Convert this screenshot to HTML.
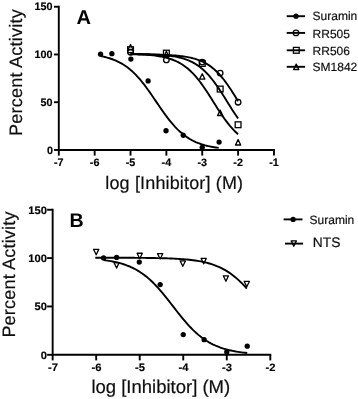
<!DOCTYPE html>
<html><head><meta charset="utf-8"><style>
html,body{margin:0;padding:0;background:#fff;}
body{width:358px;height:399px;overflow:hidden;}
svg{display:block;}
text{-webkit-font-smoothing:antialiased;text-rendering:geometricPrecision;}
text{font-family:"Liberation Sans",sans-serif;fill:#000;}
.tk{font-weight:bold;font-size:10px;stroke:#000;stroke-width:0.15px;}
.tka{letter-spacing:0px;}
.tkb{font-size:10.8px;}
.lg{font-size:12px;fill:#111;stroke:#111;stroke-width:0.2px;}
.lg2{font-size:13.8px;fill:#111;stroke:#111;stroke-width:0.2px;}
.pl{font-weight:bold;font-size:18px;}
.xl{font-size:18px;fill:#111;stroke:#111;stroke-width:0.2px;}
.xl2{font-size:18.5px;fill:#111;stroke:#111;stroke-width:0.2px;}
</style></head><body>
<svg style="will-change:transform" width="358" height="399" viewBox="0 0 358 399">
<defs><filter id="bl" x="0" y="0" width="358" height="399" filterUnits="userSpaceOnUse"><feGaussianBlur stdDeviation="0.5"/></filter></defs>
<rect width="358" height="399" fill="#fff"/>
<g filter="url(#bl)">
<path d="M58.8,6.74 L58.8,149.95 L273.96,149.95" fill="none" stroke="#000" stroke-width="1.9" stroke-linecap="square"/>
<line x1="54" y1="149.95" x2="58.8" y2="149.95" stroke="#000" stroke-width="1.9"/>
<text transform="translate(52.9,153.70) scale(1.0,1)" class="tk tkb" text-anchor="end">0</text>
<line x1="54" y1="102.21" x2="58.8" y2="102.21" stroke="#000" stroke-width="1.9"/>
<text transform="translate(52.4,105.76) scale(1.0,1)" class="tk tkb" text-anchor="end">50</text>
<line x1="54" y1="54.48" x2="58.8" y2="54.48" stroke="#000" stroke-width="1.9"/>
<text transform="translate(52.4,57.78) scale(1.0,1)" class="tk tkb" text-anchor="end">100</text>
<line x1="54" y1="6.74" x2="58.8" y2="6.74" stroke="#000" stroke-width="1.9"/>
<text transform="translate(52.4,9.74) scale(1.0,1)" class="tk tkb" text-anchor="end">150</text>
<line x1="58.80" y1="149.95" x2="58.80" y2="155.6" stroke="#000" stroke-width="1.9"/>
<text transform="translate(58.80,166.0) scale(1.0,1)" class="tk tkb" text-anchor="middle">-7</text>
<line x1="94.66" y1="149.95" x2="94.66" y2="155.6" stroke="#000" stroke-width="1.9"/>
<text transform="translate(94.66,166.0) scale(1.0,1)" class="tk tkb" text-anchor="middle">-6</text>
<line x1="130.52" y1="149.95" x2="130.52" y2="155.6" stroke="#000" stroke-width="1.9"/>
<text transform="translate(130.52,166.0) scale(1.0,1)" class="tk tkb" text-anchor="middle">-5</text>
<line x1="166.38" y1="149.95" x2="166.38" y2="155.6" stroke="#000" stroke-width="1.9"/>
<text transform="translate(166.38,166.0) scale(1.0,1)" class="tk tkb" text-anchor="middle">-4</text>
<line x1="202.24" y1="149.95" x2="202.24" y2="155.6" stroke="#000" stroke-width="1.9"/>
<text transform="translate(202.24,166.0) scale(1.0,1)" class="tk tkb" text-anchor="middle">-3</text>
<line x1="238.10" y1="149.95" x2="238.10" y2="155.6" stroke="#000" stroke-width="1.9"/>
<text transform="translate(238.10,166.0) scale(1.0,1)" class="tk tkb" text-anchor="middle">-2</text>
<line x1="273.96" y1="149.95" x2="273.96" y2="155.6" stroke="#000" stroke-width="1.9"/>
<text transform="translate(273.96,166.0) scale(1.0,1)" class="tk tkb" text-anchor="middle">-1</text>
<path d="M100.40,56.07 L101.90,56.36 L103.39,56.68 L104.89,57.02 L106.39,57.40 L107.89,57.81 L109.39,58.25 L110.88,58.73 L112.38,59.25 L113.88,59.82 L115.38,60.43 L116.88,61.09 L118.37,61.80 L119.87,62.56 L121.37,63.39 L122.87,64.27 L124.36,65.22 L125.86,66.24 L127.36,67.32 L128.86,68.48 L130.36,69.71 L131.85,71.02 L133.35,72.40 L134.85,73.86 L136.35,75.40 L137.85,77.02 L139.34,78.71 L140.84,80.47 L142.34,82.31 L143.84,84.21 L145.34,86.18 L146.83,88.20 L148.33,90.28 L149.83,92.40 L151.33,94.55 L152.83,96.73 L154.32,98.93 L155.82,101.15 L157.32,103.36 L158.82,105.56 L160.32,107.75 L161.81,109.91 L163.31,112.04 L164.81,114.13 L166.31,116.16 L167.81,118.14 L169.30,120.06 L170.80,121.92 L172.30,123.70 L173.80,125.41 L175.30,127.05 L176.79,128.60 L178.29,130.09 L179.79,131.49 L181.29,132.81 L182.78,134.06 L184.28,135.24 L185.78,136.34 L187.28,137.38 L188.78,138.34 L190.27,139.24 L191.77,140.08 L193.27,140.86 L194.77,141.58 L196.27,142.26 L197.76,142.88 L199.26,143.45 L200.76,143.99 L202.26,144.48 L203.76,144.93 L205.25,145.35 L206.75,145.73 L208.25,146.08 L209.75,146.41 L211.25,146.71 L212.74,146.98 L214.24,147.23 L215.74,147.46 L217.24,147.68 L218.74,147.87" fill="none" stroke="#000" stroke-width="1.9"/>
<path d="M130.52,54.39 L131.88,54.40 L133.24,54.40 L134.61,54.41 L135.97,54.42 L137.33,54.42 L138.69,54.43 L140.05,54.44 L141.41,54.45 L142.78,54.46 L144.14,54.48 L145.50,54.49 L146.86,54.51 L148.22,54.52 L149.58,54.54 L150.95,54.56 L152.31,54.58 L153.67,54.61 L155.03,54.63 L156.39,54.66 L157.76,54.70 L159.12,54.73 L160.48,54.77 L161.84,54.81 L163.20,54.86 L164.56,54.91 L165.93,54.97 L167.29,55.03 L168.65,55.09 L170.01,55.17 L171.37,55.25 L172.73,55.34 L174.10,55.44 L175.46,55.54 L176.82,55.66 L178.18,55.79 L179.54,55.93 L180.91,56.08 L182.27,56.25 L183.63,56.44 L184.99,56.64 L186.35,56.86 L187.71,57.10 L189.08,57.37 L190.44,57.65 L191.80,57.97 L193.16,58.31 L194.52,58.69 L195.89,59.09 L197.25,59.54 L198.61,60.02 L199.97,60.54 L201.33,61.11 L202.69,61.73 L204.06,62.39 L205.42,63.11 L206.78,63.89 L208.14,64.73 L209.50,65.64 L210.86,66.61 L212.23,67.65 L213.59,68.76 L214.95,69.95 L216.31,71.22 L217.67,72.57 L219.04,74.00 L220.40,75.51 L221.76,77.10 L223.12,78.77 L224.48,80.52 L225.84,82.34 L227.21,84.24 L228.57,86.20 L229.93,88.23 L231.29,90.32 L232.65,92.45 L234.01,94.62 L235.38,96.83 L236.74,99.06 L238.10,101.30" fill="none" stroke="#000" stroke-width="1.9"/>
<path d="M130.52,53.89 L131.88,53.91 L133.24,53.92 L134.61,53.94 L135.97,53.96 L137.33,53.98 L138.69,54.00 L140.05,54.03 L141.41,54.05 L142.78,54.08 L144.14,54.11 L145.50,54.15 L146.86,54.19 L148.22,54.23 L149.58,54.28 L150.95,54.33 L152.31,54.38 L153.67,54.44 L155.03,54.51 L156.39,54.58 L157.76,54.66 L159.12,54.74 L160.48,54.84 L161.84,54.94 L163.20,55.05 L164.56,55.18 L165.93,55.31 L167.29,55.46 L168.65,55.62 L170.01,55.79 L171.37,55.98 L172.73,56.19 L174.10,56.42 L175.46,56.66 L176.82,56.93 L178.18,57.23 L179.54,57.55 L180.91,57.89 L182.27,58.27 L183.63,58.68 L184.99,59.12 L186.35,59.60 L187.71,60.12 L189.08,60.69 L190.44,61.30 L191.80,61.95 L193.16,62.66 L194.52,63.43 L195.89,64.25 L197.25,65.13 L198.61,66.08 L199.97,67.09 L201.33,68.17 L202.69,69.33 L204.06,70.55 L205.42,71.85 L206.78,73.23 L208.14,74.68 L209.50,76.21 L210.86,77.82 L212.23,79.49 L213.59,81.25 L214.95,83.07 L216.31,84.96 L217.67,86.91 L219.04,88.91 L220.40,90.97 L221.76,93.06 L223.12,95.20 L224.48,97.36 L225.84,99.53 L227.21,101.72 L228.57,103.91 L229.93,106.09 L231.29,108.25 L232.65,110.39 L234.01,112.49 L235.38,114.55 L236.74,116.56 L238.10,118.52" fill="none" stroke="#000" stroke-width="1.9"/>
<path d="M130.52,53.99 L131.88,54.03 L133.24,54.07 L134.61,54.12 L135.97,54.17 L137.33,54.22 L138.69,54.28 L140.05,54.35 L141.41,54.42 L142.78,54.49 L144.14,54.58 L145.50,54.67 L146.86,54.77 L148.22,54.88 L149.58,55.00 L150.95,55.13 L152.31,55.27 L153.67,55.42 L155.03,55.59 L156.39,55.78 L157.76,55.98 L159.12,56.20 L160.48,56.44 L161.84,56.69 L163.20,56.98 L164.56,57.28 L165.93,57.62 L167.29,57.98 L168.65,58.37 L170.01,58.80 L171.37,59.26 L172.73,59.76 L174.10,60.30 L175.46,60.88 L176.82,61.51 L178.18,62.19 L179.54,62.92 L180.91,63.71 L182.27,64.55 L183.63,65.46 L184.99,66.43 L186.35,67.46 L187.71,68.56 L189.08,69.74 L190.44,70.98 L191.80,72.30 L193.16,73.70 L194.52,75.17 L195.89,76.71 L197.25,78.33 L198.61,80.02 L199.97,81.78 L201.33,83.61 L202.69,85.50 L204.06,87.45 L205.42,89.45 L206.78,91.50 L208.14,93.59 L209.50,95.71 L210.86,97.86 L212.23,100.02 L213.59,102.19 L214.95,104.35 L216.31,106.51 L217.67,108.64 L219.04,110.75 L220.40,112.83 L221.76,114.86 L223.12,116.84 L224.48,118.77 L225.84,120.64 L227.21,122.44 L228.57,124.17 L229.93,125.84 L231.29,127.43 L232.65,128.94 L234.01,130.38 L235.38,131.75 L236.74,133.04 L238.10,134.26" fill="none" stroke="#000" stroke-width="1.9"/>
<circle cx="130.52" cy="52.19" r="2.8" fill="none" stroke="#000" stroke-width="1.3"/>
<circle cx="166.38" cy="59.92" r="2.8" fill="none" stroke="#000" stroke-width="1.3"/>
<circle cx="202.24" cy="62.12" r="2.8" fill="none" stroke="#000" stroke-width="1.3"/>
<circle cx="220.17" cy="73.10" r="2.8" fill="none" stroke="#000" stroke-width="1.3"/>
<circle cx="238.10" cy="102.21" r="2.8" fill="none" stroke="#000" stroke-width="1.3"/>
<rect x="127.62" y="46.81" width="5.8" height="5.8" fill="none" stroke="#000" stroke-width="1.3"/>
<rect x="163.48" y="50.24" width="5.8" height="5.8" fill="none" stroke="#000" stroke-width="1.3"/>
<rect x="199.34" y="60.55" width="5.8" height="5.8" fill="none" stroke="#000" stroke-width="1.3"/>
<rect x="217.27" y="86.14" width="5.8" height="5.8" fill="none" stroke="#000" stroke-width="1.3"/>
<rect x="235.20" y="121.85" width="5.8" height="5.8" fill="none" stroke="#000" stroke-width="1.3"/>
<path d="M130.52,44.52 L133.12,49.92 L127.92,49.92 Z" fill="none" stroke="#000" stroke-width="1.3" stroke-linejoin="round"/>
<path d="M166.38,51.30 L168.98,56.70 L163.78,56.70 Z" fill="none" stroke="#000" stroke-width="1.3" stroke-linejoin="round"/>
<path d="M202.24,73.74 L204.84,79.14 L199.64,79.14 Z" fill="none" stroke="#000" stroke-width="1.3" stroke-linejoin="round"/>
<path d="M220.17,110.11 L222.77,115.51 L217.57,115.51 Z" fill="none" stroke="#000" stroke-width="1.3" stroke-linejoin="round"/>
<path d="M238.10,139.61 L240.70,145.01 L235.50,145.01 Z" fill="none" stroke="#000" stroke-width="1.3" stroke-linejoin="round"/>
<circle cx="100.58" cy="54.19" r="2.65" fill="#000"/>
<circle cx="111.87" cy="53.72" r="2.65" fill="#000"/>
<circle cx="130.88" cy="59.06" r="2.65" fill="#000"/>
<circle cx="148.09" cy="80.93" r="2.65" fill="#000"/>
<circle cx="166.02" cy="130.76" r="2.65" fill="#000"/>
<circle cx="183.23" cy="135.25" r="2.65" fill="#000"/>
<circle cx="202.24" cy="147.28" r="2.65" fill="#000"/>
<circle cx="219.09" cy="142.03" r="2.65" fill="#000"/>
<line x1="286.7" y1="16.2" x2="305.1" y2="16.2" stroke="#000" stroke-width="1.9"/><circle cx="296.00" cy="16.20" r="2.65" fill="#000"/>
<line x1="286.7" y1="32.9" x2="305.1" y2="32.9" stroke="#000" stroke-width="1.9"/><circle cx="296.00" cy="32.90" r="2.8" fill="none" stroke="#000" stroke-width="1.3"/>
<line x1="286.7" y1="50.3" x2="305.1" y2="50.3" stroke="#000" stroke-width="1.9"/><rect x="293.40" y="47.40" width="5.8" height="5.8" fill="none" stroke="#000" stroke-width="1.3"/>
<line x1="286.7" y1="66.8" x2="305.1" y2="66.8" stroke="#000" stroke-width="1.9"/><path d="M296.20,64.10 L298.80,69.50 L293.60,69.50 Z" fill="none" stroke="#000" stroke-width="1.3" stroke-linejoin="round"/>
<text x="312.6" y="20.4" class="lg">Suramin</text>
<text x="312.6" y="37.8" class="lg">RR505</text>
<text x="312.6" y="54.7" class="lg">RR506</text>
<text x="312.6" y="71" class="lg">SM1842</text>
<text x="76.5" y="23.6" class="pl" style="font-size:20px">A</text>
<text x="105.3" y="189" class="xl" style="letter-spacing:0.15px">log [Inhibitor] (M)</text>
<text transform="translate(22.3,136.1) rotate(-90)" class="xl" style="letter-spacing:0.25px">Percent Activity</text>
<path d="M52.65,209.75 L52.65,354.8 L270.30,354.8" fill="none" stroke="#000" stroke-width="1.9" stroke-linecap="square"/>
<line x1="47.1" y1="354.80" x2="52.65" y2="354.80" stroke="#000" stroke-width="1.9"/>
<text transform="translate(46.9,358.80) scale(1.04,1)" class="tk tkb" text-anchor="end">0</text>
<line x1="47.1" y1="306.45" x2="52.65" y2="306.45" stroke="#000" stroke-width="1.9"/>
<text transform="translate(46.9,310.45) scale(1.04,1)" class="tk tkb" text-anchor="end">50</text>
<line x1="47.1" y1="258.10" x2="52.65" y2="258.10" stroke="#000" stroke-width="1.9"/>
<text transform="translate(46.9,262.10) scale(1.04,1)" class="tk tkb" text-anchor="end">100</text>
<line x1="47.1" y1="209.75" x2="52.65" y2="209.75" stroke="#000" stroke-width="1.9"/>
<text transform="translate(46.9,213.75) scale(1.04,1)" class="tk tkb" text-anchor="end">150</text>
<line x1="52.65" y1="354.8" x2="52.65" y2="360.4" stroke="#000" stroke-width="1.9"/>
<text transform="translate(52.95,371.0) scale(1.04,1)" class="tk tkb" text-anchor="middle">-7</text>
<line x1="96.18" y1="354.8" x2="96.18" y2="360.4" stroke="#000" stroke-width="1.9"/>
<text transform="translate(96.48,371.0) scale(1.04,1)" class="tk tkb" text-anchor="middle">-6</text>
<line x1="139.71" y1="354.8" x2="139.71" y2="360.4" stroke="#000" stroke-width="1.9"/>
<text transform="translate(140.01,371.0) scale(1.04,1)" class="tk tkb" text-anchor="middle">-5</text>
<line x1="183.24" y1="354.8" x2="183.24" y2="360.4" stroke="#000" stroke-width="1.9"/>
<text transform="translate(183.54,371.0) scale(1.04,1)" class="tk tkb" text-anchor="middle">-4</text>
<line x1="226.77" y1="354.8" x2="226.77" y2="360.4" stroke="#000" stroke-width="1.9"/>
<text transform="translate(227.07,371.0) scale(1.04,1)" class="tk tkb" text-anchor="middle">-3</text>
<line x1="270.30" y1="354.8" x2="270.30" y2="360.4" stroke="#000" stroke-width="1.9"/>
<text transform="translate(270.60,371.0) scale(1.04,1)" class="tk tkb" text-anchor="middle">-2</text>
<path d="M103.58,260.08 L105.40,260.32 L107.22,260.57 L109.04,260.85 L110.85,261.15 L112.67,261.49 L114.49,261.85 L116.31,262.25 L118.13,262.69 L119.95,263.16 L121.76,263.68 L123.58,264.25 L125.40,264.86 L127.22,265.53 L129.04,266.25 L130.86,267.03 L132.67,267.88 L134.49,268.79 L136.31,269.78 L138.13,270.84 L139.95,271.97 L141.77,273.19 L143.58,274.49 L145.40,275.87 L147.22,277.35 L149.04,278.90 L150.86,280.55 L152.68,282.28 L154.49,284.10 L156.31,286.00 L158.13,287.98 L159.95,290.03 L161.77,292.15 L163.59,294.33 L165.40,296.56 L167.22,298.84 L169.04,301.15 L170.86,303.48 L172.68,305.83 L174.50,308.17 L176.31,310.51 L178.13,312.83 L179.95,315.12 L181.77,317.37 L183.59,319.57 L185.41,321.72 L187.22,323.79 L189.04,325.80 L190.86,327.73 L192.68,329.58 L194.50,331.34 L196.32,333.02 L198.13,334.61 L199.95,336.12 L201.77,337.54 L203.59,338.87 L205.41,340.12 L207.23,341.28 L209.04,342.37 L210.86,343.38 L212.68,344.32 L214.50,345.19 L216.32,346.00 L218.14,346.74 L219.95,347.43 L221.77,348.06 L223.59,348.65 L225.41,349.18 L227.23,349.67 L229.05,350.12 L230.86,350.53 L232.68,350.91 L234.50,351.26 L236.32,351.57 L238.14,351.86 L239.96,352.13 L241.77,352.37 L243.59,352.59 L245.41,352.79 L247.23,352.97" fill="none" stroke="#000" stroke-width="1.9"/>
<path d="M95.31,257.73 L97.23,257.73 L99.14,257.73 L101.06,257.73 L102.98,257.73 L104.90,257.74 L106.81,257.74 L108.73,257.74 L110.65,257.74 L112.57,257.75 L114.48,257.75 L116.40,257.76 L118.32,257.76 L120.24,257.77 L122.15,257.77 L124.07,257.78 L125.99,257.78 L127.91,257.79 L129.82,257.80 L131.74,257.81 L133.66,257.82 L135.58,257.83 L137.49,257.84 L139.41,257.86 L141.33,257.87 L143.25,257.89 L145.17,257.91 L147.08,257.93 L149.00,257.96 L150.92,257.98 L152.84,258.01 L154.75,258.04 L156.67,258.08 L158.59,258.12 L160.51,258.16 L162.42,258.21 L164.34,258.26 L166.26,258.32 L168.18,258.39 L170.09,258.46 L172.01,258.54 L173.93,258.63 L175.85,258.72 L177.76,258.83 L179.68,258.95 L181.60,259.08 L183.52,259.23 L185.43,259.39 L187.35,259.57 L189.27,259.76 L191.19,259.98 L193.10,260.21 L195.02,260.48 L196.94,260.76 L198.86,261.08 L200.77,261.43 L202.69,261.82 L204.61,262.24 L206.53,262.70 L208.44,263.21 L210.36,263.76 L212.28,264.37 L214.20,265.03 L216.11,265.76 L218.03,266.55 L219.95,267.40 L221.87,268.33 L223.78,269.34 L225.70,270.43 L227.62,271.61 L229.54,272.87 L231.45,274.23 L233.37,275.68 L235.29,277.22 L237.21,278.87 L239.12,280.61 L241.04,282.45 L242.96,284.39 L244.88,286.41 L246.79,288.53" fill="none" stroke="#000" stroke-width="1.9"/>
<path d="M93.58,249.40 L98.78,249.40 L96.18,254.80 Z" fill="none" stroke="#000" stroke-width="1.3" stroke-linejoin="round"/>
<path d="M114.04,262.65 L119.24,262.65 L116.64,268.05 Z" fill="none" stroke="#000" stroke-width="1.3" stroke-linejoin="round"/>
<path d="M137.11,253.27 L142.31,253.27 L139.71,258.67 Z" fill="none" stroke="#000" stroke-width="1.3" stroke-linejoin="round"/>
<path d="M157.57,253.66 L162.77,253.66 L160.17,259.06 Z" fill="none" stroke="#000" stroke-width="1.3" stroke-linejoin="round"/>
<path d="M180.20,260.91 L185.40,260.91 L182.80,266.31 Z" fill="none" stroke="#000" stroke-width="1.3" stroke-linejoin="round"/>
<path d="M201.10,258.40 L206.30,258.40 L203.70,263.80 Z" fill="none" stroke="#000" stroke-width="1.3" stroke-linejoin="round"/>
<path d="M223.30,275.80 L228.50,275.80 L225.90,281.20 Z" fill="none" stroke="#000" stroke-width="1.3" stroke-linejoin="round"/>
<path d="M244.19,281.41 L249.39,281.41 L246.79,286.81 Z" fill="none" stroke="#000" stroke-width="1.3" stroke-linejoin="round"/>
<circle cx="103.58" cy="257.91" r="2.65" fill="#000"/>
<circle cx="116.64" cy="257.42" r="2.65" fill="#000"/>
<circle cx="139.27" cy="262.06" r="2.65" fill="#000"/>
<circle cx="160.17" cy="284.60" r="2.65" fill="#000"/>
<circle cx="183.24" cy="334.59" r="2.65" fill="#000"/>
<circle cx="204.13" cy="339.71" r="2.65" fill="#000"/>
<circle cx="226.77" cy="351.90" r="2.65" fill="#000"/>
<circle cx="247.23" cy="346.19" r="2.65" fill="#000"/>
<line x1="283.6" y1="219.4" x2="302.5" y2="219.4" stroke="#000" stroke-width="1.9"/><circle cx="293.10" cy="219.40" r="2.65" fill="#000"/>
<line x1="285" y1="243.6" x2="303.1" y2="243.6" stroke="#000" stroke-width="1.9"/><path d="M291.20,240.90 L296.40,240.90 L293.80,246.30 Z" fill="none" stroke="#000" stroke-width="1.3" stroke-linejoin="round"/>
<text x="309.6" y="224" class="lg">Suramin</text>
<text x="312.8" y="246.8" class="lg2">NTS</text>
<text x="69.5" y="226.7" class="pl" style="font-size:19.6px">B</text>
<text x="91.4" y="393.2" class="xl2">log [Inhibitor] (M)</text>
<text transform="translate(15,337.6) rotate(-90)" class="xl" style="letter-spacing:0.2px">Percent Activity</text>
</g>
</svg>
</body></html>
